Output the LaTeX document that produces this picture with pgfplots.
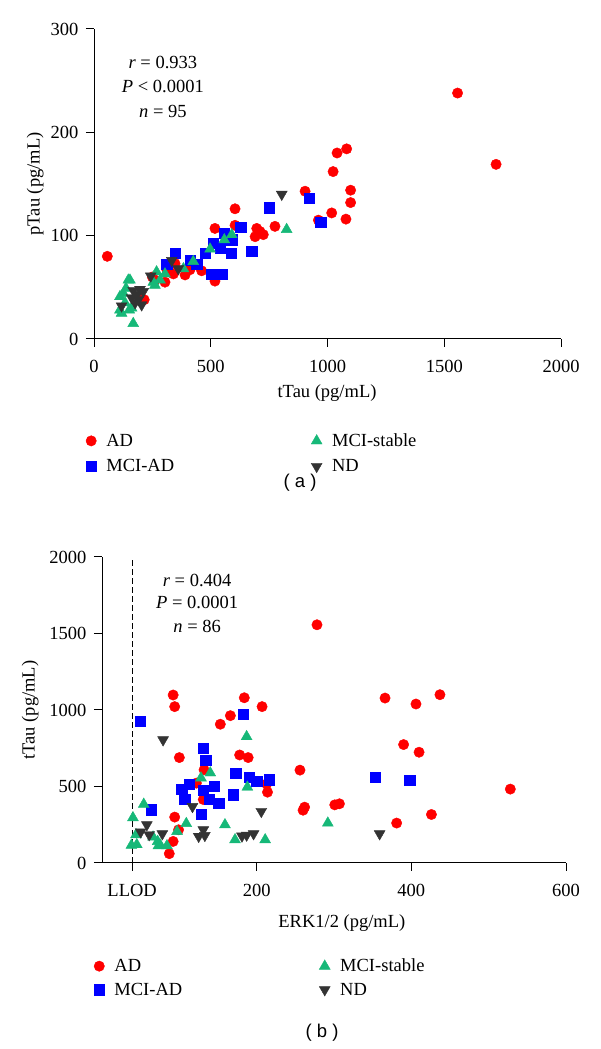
\documentclass[border=0pt]{standalone}
\usepackage{fontspec}
\setmainfont{Liberation Serif}
\newfontfamily\sansf{Liberation Sans}
\usepackage{pgfplots}
\pgfplotsset{compat=1.18}
\definecolor{adred}{RGB}{255,0,0}
\definecolor{mciblue}{RGB}{0,0,255}
\definecolor{stgreen}{RGB}{22,184,120}
\definecolor{ndgray}{RGB}{51,51,51}
\newcommand{\fs}{\fontsize{18.5}{22}\selectfont}
\pgfplotsset{
 myaxis/.style={
  scale only axis, axis lines=left, axis line style={-, line width=1pt},
  tick align=outside, major tick length=8pt, tick style={line width=1pt, black},
  font=\fs, ticklabel style={font=\fs},
  xticklabel style={yshift=-10pt}, yticklabel style={xshift=-4pt},
  /pgf/number format/assume math mode=true, /pgf/number format/1000 sep={},
  legend columns=2, transpose legend, legend cell align=left,
  legend style={draw=none, fill=none, font=\fs, anchor=north west, row sep=7.5pt,
    /tikz/every even column/.append style={column sep=135pt},
    /tikz/every odd column/.append style={column sep=8pt}},
 },
 ad/.style={only marks, mark=*, mark size=5.2pt, color=adred},
 mci/.style={only marks, mark=square*, mark size=5.1pt, color=mciblue},
 st/.style={only marks, mark=triangle*, mark size=6.3pt, color=stgreen},
 nd/.style={only marks, mark=triangle*, mark size=6.3pt, mark options={rotate=180}, color=ndgray},
}
\begin{document}
\begin{tikzpicture}
\path[use as bounding box] (0,0) rectangle (600pt,1049pt);
% ---------------- panel (a)
\begin{axis}[myaxis, at={(94pt,710pt)}, anchor=south west, width=467pt, height=310pt,
  xmin=0, xmax=2000, ymin=0, ymax=300,
  xtick={0,500,1000,1500,2000}, ytick={0,100,200,300},
  xlabel={tTau (pg/mL)}, ylabel={pTau (pg/mL)},
  xlabel style={at={(axis description cs:0.499,-0.174)}, anchor=center},
  ylabel style={at={(axis description cs:-0.126,0.5)}, anchor=center},
  legend style={at={(axis description cs:-0.024,-0.292)}}]
\addplot[ad] coordinates {(57,80) (215,38) (261,57) (304,55) (312,67) (347,73) (390,62) (411,67) (461,66) (518,56) (518,107) (604,126) (604,110) (697,107) (711,104) (725,101) (690,99) (775,109) (904,143) (961,115) (1018,122) (1079,116) (1024,162) (1041,180) (1082,184) (1099,144) (1099,132) (1557,238) (1722,169) (250,60) (340,63) (200,40)};
\addlegendentry{AD}
\addplot[mci] coordinates {(311,72) (347,83) (411,76) (440,72) (475,83) (511,93) (540,88) (557,102) (587,83) (628,108) (675,85) (750,127) (504,63) (547,63) (922,136) (971,113) (590,96)};
\addlegendentry{MCI-AD}
\addplot[st] coordinates {(111,41) (118,25) (111,28) (126,44) (137,49) (147,57) (154,57) (151,28) (161,30) (133,35) (168,15) (254,55) (261,52) (268,65) (283,57) (304,63) (383,68) (425,75) (497,87) (558,96) (590,101) (825,106)};
\addlegendentry{MCI-stable}
\addplot[nd] coordinates {(118,32) (161,40) (168,47) (176,35) (183,43) (190,38) (197,48) (204,33) (211,46) (243,61) (333,76) (361,68) (804,140)};
\addlegendentry{ND}
\node[font=\fs] at (axis cs:295,268) {\textit{r} = 0.933};
\node[font=\fs] at (axis cs:295,244) {\textit{P} < 0.0001};
\node[font=\fs] at (axis cs:295,220) {\textit{n} = 95};
\end{axis}
% ---------------- panel (b)
\begin{axis}[myaxis, at={(102pt,186pt)}, anchor=south west, width=464pt, height=306pt,
  xmin=0, xmax=600, ymin=0, ymax=2000,
  xtick={39,200,400,600}, xticklabels={LLOD,200,400,600},
  ytick={0,500,1000,1500,2000},
  xlabel={ERK1/2 (pg/mL)}, ylabel={tTau (pg/mL)},
  xlabel style={at={(axis description cs:0.517,-0.196)}, anchor=center},
  ylabel style={at={(axis description cs:-0.155,0.5)}, anchor=center},
  legend style={at={(axis description cs:-0.024,-0.3)}, row sep=5.5pt}]
\addplot[black, dash pattern=on 6pt off 3pt, line width=1pt, forget plot] coordinates {(39,0) (39,2000)};
\addplot[ad] coordinates {(92,1098) (94,1022) (100,689) (94,300) (99,217) (92,141) (87,61) (153,907) (166,963) (184,1080) (207,1022) (178,706) (189,689) (132,609) (131,415) (122,522) (213,517) (214,463) (256,607) (260,345) (262,365) (278,1557) (366,1078) (406,1039) (437,1100) (390,774) (410,724) (528,483) (426,317) (381,261) (301,380) (307,387)};
\addlegendentry{AD}
\addplot[mci] coordinates {(49,926) (64,348) (131,750) (134,674) (103,483) (113,513) (107,417) (131,474) (145,500) (139,417) (151,393) (128,320) (183,970) (173,587) (170,446) (190,561) (200,533) (216,545) (353,561) (398,543)};
\addlegendentry{MCI-AD}
\addplot[st] coordinates {(40,296) (44,185) (38,116) (45,120) (54,384) (66,170) (72,141) (75,120) (84,113) (73,113) (97,206) (109,258) (128,556) (140,589) (159,250) (172,152) (187,826) (188,496) (211,152) (292,261)};
\addlegendentry{MCI-stable}
\addplot[nd] coordinates {(79,805) (117,369) (50,203) (58,250) (61,185) (78,191) (125,174) (133,180) (131,217) (181,176) (187,182) (196,191) (206,337) (359,191)};
\addlegendentry{ND}
\node[font=\fs] at (axis cs:123,1848) {\textit{r} = 0.404};
\node[font=\fs] at (axis cs:123,1704) {\textit{P} = 0.0001};
\node[font=\fs] at (axis cs:123,1546) {\textit{n} = 86};
\end{axis}
\node[font=\sansf\fs] at (300pt,566pt) {( a )};
\node[font=\sansf\fs] at (322pt,16pt) {( b )};
\end{tikzpicture}
\end{document}
